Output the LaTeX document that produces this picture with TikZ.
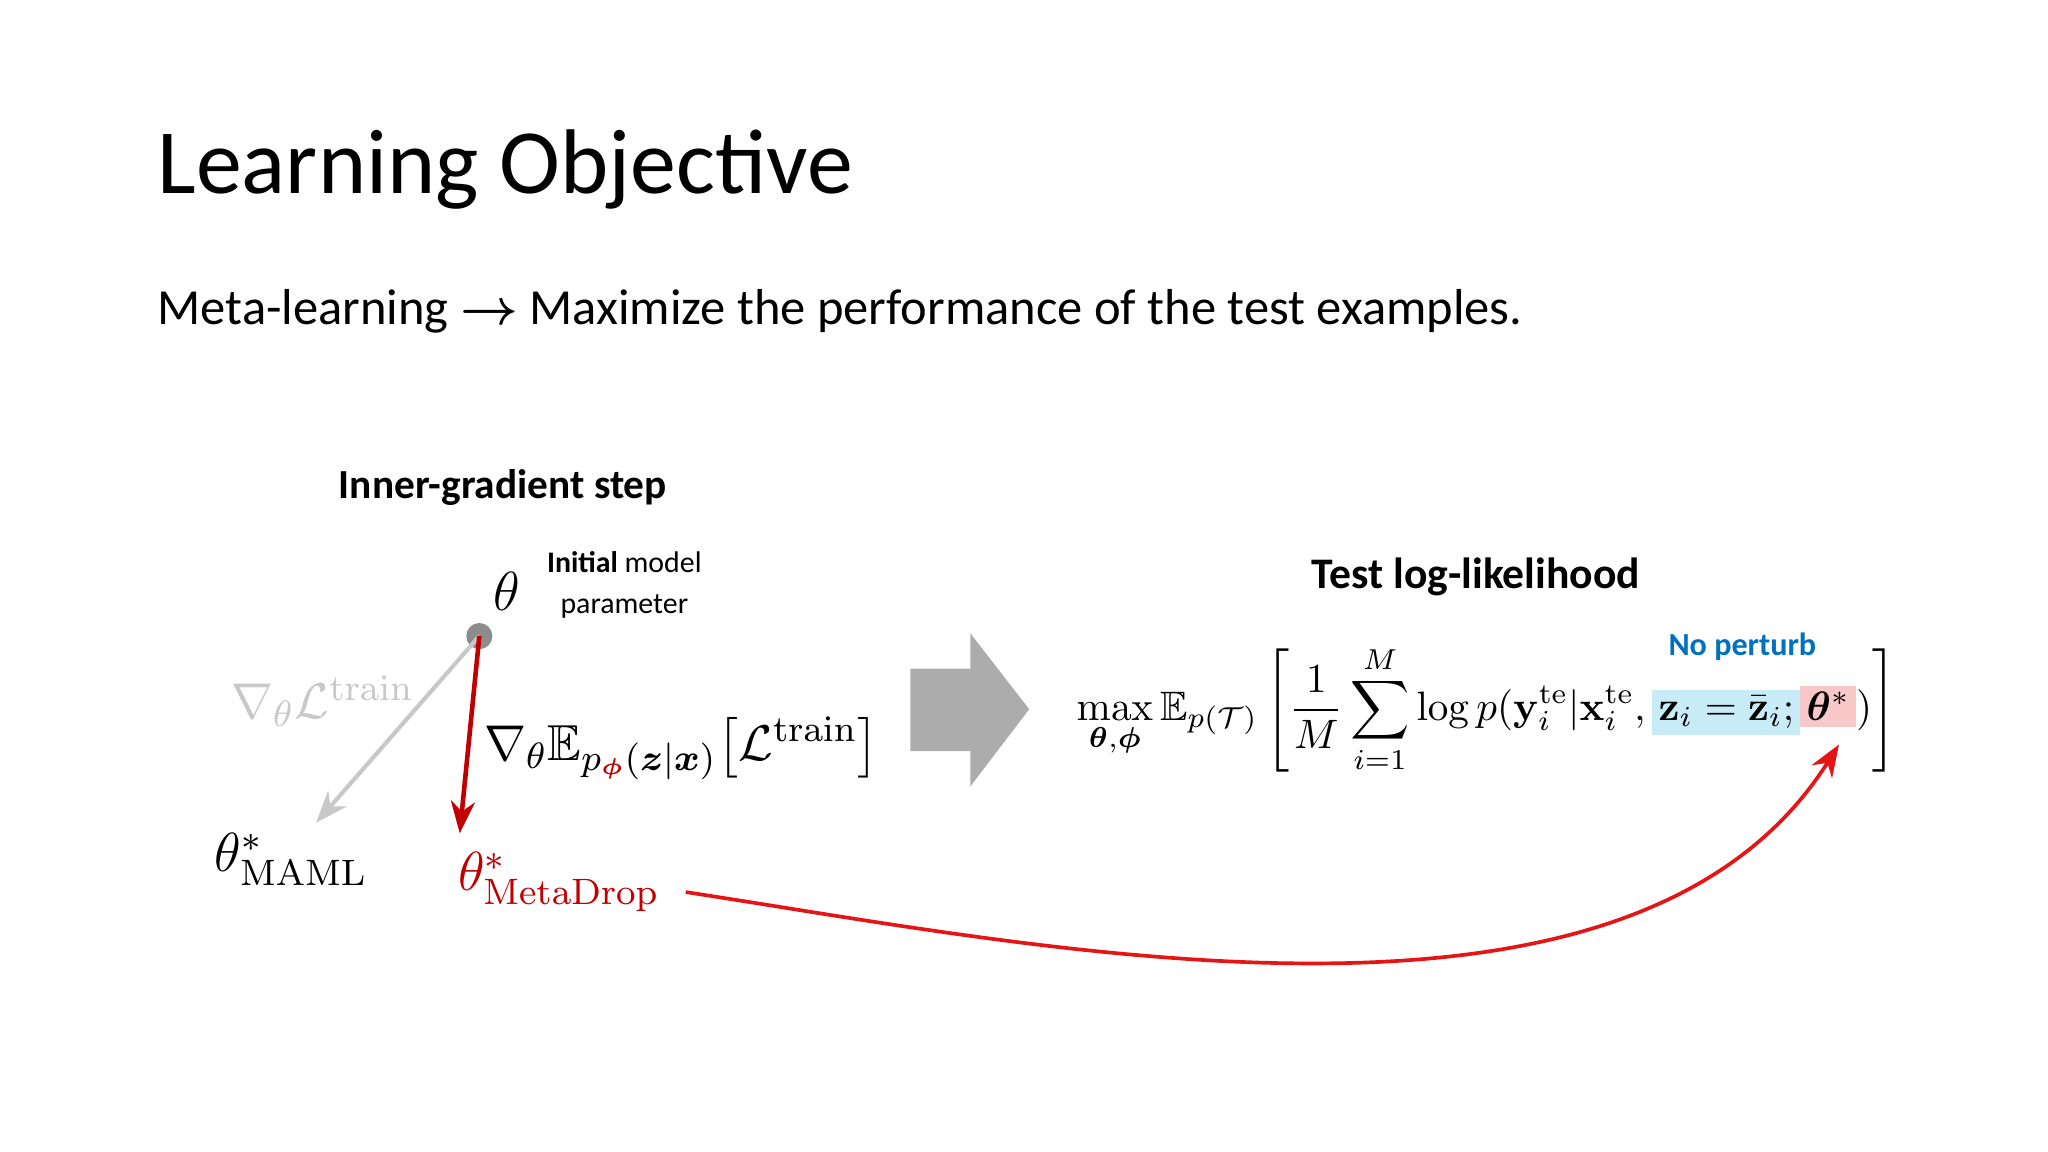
\documentclass[tikz,border=0pt]{standalone}
\usepackage{amsmath,amssymb,bm}
\usepackage[no-math]{fontspec}
\setmainfont{Carlito}
\usetikzlibrary{arrows.meta}
\definecolor{dred}{RGB}{192,0,0}
\definecolor{ared}{RGB}{230,20,20}
\definecolor{lgray}{RGB}{200,200,200}
\definecolor{hblue}{RGB}{200,235,248}
\definecolor{hred}{RGB}{248,200,200}
\definecolor{pblue}{RGB}{0,112,192}
\tikzset{lbl/.style={inner sep=0pt}}
\begin{document}
\begin{tikzpicture}[x=0.01cm,y=-0.01cm]
\useasboundingbox (0,0) rectangle (1568,882);
\node[lbl,anchor=west,font=\fontsize{20}{24}\selectfont] (title) at (120,130) {Learning Objective};
\node[lbl,anchor=west,font=\fontsize{11}{13}\selectfont] (sub) at (120,238) {Meta-learning $\bm\rightarrow$ Maximize the performance of the test examples.};
\node[lbl,font=\fontsize{9}{11}\selectfont\bfseries] (igs) at (385,373) {Inner-gradient step};
\node[lbl,font=\fontsize{13}{15}\selectfont] (th) at (388,453) {$\theta$};
\node[lbl,font=\fontsize{6.5}{9}\selectfont,align=center] (init) at (478,448) {\textbf{Initial} model\\parameter};
\fill[gray!90] (367,487) circle (10) coordinate (dot);
\coordinate (maml) at (242,630);
\coordinate (md) at (352,638);
\draw[lgray,line width=0.9pt,-{Stealth[length=7pt]}] (dot) -- (maml);
\draw[dred,line width=1pt,-{Stealth[length=7pt]}] (dot) -- (md);
\node[lbl,text=lgray,font=\fontsize{11}{13}\selectfont] (g1) at (247,537) {$\nabla_\theta\mathcal{L}^{\mathrm{train}}$};
\node[lbl,anchor=west,font=\fontsize{11}{13}\selectfont] (g2) at (370,573) {$\nabla_\theta\mathbb{E}_{p_{\color{dred}\bm\phi}(\bm z|\bm x)}\big[\mathcal{L}^{\mathrm{train}}\big]$};
\node[lbl,font=\fontsize{12}{14}\selectfont] (tm) at (223,658) {$\theta^*_{\mathrm{MAML}}$};
\node[lbl,text=dred,font=\fontsize{12}{14}\selectfont] (tmd) at (428,675) {$\theta^*_{\mathrm{MetaDrop}}$};
\fill[gray!65] (697,512) -- (743,512) -- (743,485) -- (788,543) -- (743,602) -- (743,575) -- (697,575) -- cycle;
\node[lbl,font=\fontsize{9.5}{11}\selectfont\bfseries] (tll) at (1130,442) {Test log-likelihood};
\node[lbl] (eq) at (1138,543) {\resizebox{6.27cm}{!}{$\displaystyle
\max_{\bm\theta,\bm\phi}\mathbb{E}_{p(\mathcal{T})}\left[\frac{1}{M}\sum_{i=1}^{M}\log p(\mathbf{y}_i^{\mathrm{te}}|\mathbf{x}_i^{\mathrm{te}},\setlength{\fboxsep}{1.5pt}\colorbox{hblue}{$\mathbf{z}_i=\bar{\mathbf{z}}_i;$}\colorbox{hred}{$\bm\theta^*$})\right]$}};
\node[lbl,text=pblue,font=\fontsize{7}{9}\selectfont\bfseries] (np) at (1334,495) {No perturb};
\coordinate (tstar) at (1408,570);
\draw[ared,line width=0.8pt,-{Stealth[length=7pt]}] (525,683) .. controls (800,725) and (1250,820) .. (tstar);
\end{tikzpicture}
\end{document}
